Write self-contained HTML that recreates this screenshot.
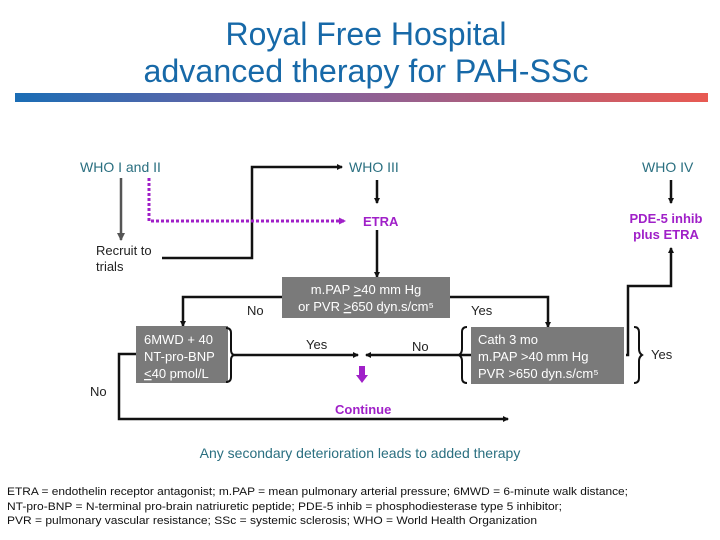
<!DOCTYPE html>
<html><head><meta charset="utf-8"><style>
body{margin:0;background:#fff;width:720px;height:540px;overflow:hidden}
svg{display:block;font-family:"Liberation Sans",Arial,sans-serif}
</style></head><body>
<svg width="720" height="540" viewBox="0 0 720 540">
<defs>
<linearGradient id="g" x1="0" x2="1"><stop offset="0" stop-color="#1a6db5"/><stop offset="0.4" stop-color="#7a62a3"/><stop offset="1" stop-color="#e85a52"/></linearGradient>
<marker id="a" markerWidth="6" markerHeight="6" refX="5" refY="3" orient="auto" markerUnits="userSpaceOnUse"><path d="M0,0 L6,3 L0,6 z" fill="#111"/></marker>
<marker id="ag" markerWidth="8" markerHeight="8" refX="7" refY="4" orient="auto" markerUnits="userSpaceOnUse"><path d="M0,0 L8,4 L0,8 z" fill="#555"/></marker>
<marker id="ap" markerWidth="7" markerHeight="7" refX="6" refY="3.5" orient="auto" markerUnits="userSpaceOnUse"><path d="M0,0 L7,3.5 L0,7 z" fill="#a020c8"/></marker>
</defs>
<text x="366" y="45" font-size="32" fill="#1769a8" text-anchor="middle" textLength="281" lengthAdjust="spacingAndGlyphs">Royal Free Hospital</text>
<text x="366" y="82" font-size="32" fill="#1769a8" text-anchor="middle" textLength="445" lengthAdjust="spacingAndGlyphs">advanced therapy for PAH-SSc</text>
<rect x="15" y="93" width="693" height="9" fill="url(#g)"/>

<g font-size="14" fill="#2a6f80">
<text x="80" y="172">WHO I and II</text>
<text x="349" y="172">WHO III</text>
<text x="642" y="172">WHO IV</text>
</g>
<g stroke="#111" stroke-width="2.5" fill="none">
<line x1="121" y1="178" x2="121" y2="240" stroke="#555" marker-end="url(#ag)"/>
<polyline points="162,258 252,258 252,167 342,167" marker-end="url(#a)"/>
<line x1="377" y1="180" x2="377" y2="203" marker-end="url(#a)"/>
<line x1="377" y1="230" x2="377" y2="277" marker-end="url(#a)"/>
<line x1="671" y1="180" x2="671" y2="203" marker-end="url(#a)"/>
<polyline points="282,297 183,297 183,326" marker-end="url(#a)"/>
<polyline points="450,297 548,297 548,327" marker-end="url(#a)"/>
<line x1="232" y1="355" x2="358" y2="355" marker-end="url(#a)"/>
<line x1="472" y1="355" x2="366" y2="355" marker-end="url(#a)"/>
<polyline points="136,354 119,354 119,419 508,419" marker-end="url(#a)"/>
<polyline points="626,355 628,355 628,286 671,286 671,248" marker-end="url(#a)"/>
</g>
<polyline points="149,178 149,221 345,221" fill="none" stroke="#a020c8" stroke-width="3" stroke-dasharray="3,2" marker-end="url(#ap)"/>
<rect x="359" y="366" width="6" height="10" fill="#a020c8"/>
<path d="M356,375 L368,375 L362,383 z" fill="#a020c8"/>

<text x="96" y="255" font-size="13" fill="#222">Recruit to</text>
<text x="96" y="271" font-size="13" fill="#222">trials</text>
<g font-size="13" font-weight="bold" fill="#a020c8">
<text x="363" y="226">ETRA</text>
<text x="666" y="223" text-anchor="middle">PDE-5 inhib</text>
<text x="666" y="239" text-anchor="middle">plus ETRA</text>
<text x="335" y="414">Continue</text>
</g>

<rect x="282" y="277" width="168" height="41" fill="#7a7a7a"/>
<text x="366" y="294" font-size="13" fill="#fff" text-anchor="middle">m.PAP <tspan text-decoration="underline">&gt;</tspan>40 mm Hg</text>
<text x="366" y="311" font-size="13" fill="#fff" text-anchor="middle">or PVR <tspan text-decoration="underline">&gt;</tspan>650 dyn.s/cm⁵</text>

<rect x="136" y="326" width="92" height="57" fill="#7a7a7a"/>
<g font-size="13" fill="#fff">
<text x="144" y="344">6MWD + 40</text>
<text x="144" y="361">NT-pro-BNP</text>
<text x="144" y="378"><tspan text-decoration="underline">&lt;</tspan>40 pmol/L</text>
</g>
<path d="M226,328 q5,0 5,5 v17 q0,4 3,5 q-3,1 -3,5 v17 q0,5 -5,5" fill="none" stroke="#111" stroke-width="2"/>

<rect x="471" y="327" width="153" height="57" fill="#7a7a7a"/>
<g font-size="13" fill="#fff">
<text x="478" y="344">Cath 3 mo</text>
<text x="478" y="361">m.PAP &gt;40 mm Hg</text>
<text x="478" y="378">PVR &gt;650 dyn.s/cm⁵</text>
</g>
<path d="M467,327 q-5,0 -5,5 v17 q0,4 -3,6 q3,2 3,6 v17 q0,5 5,5" fill="none" stroke="#111" stroke-width="2"/>
<path d="M634,327 q5,0 5,5 v17 q0,4 3,6 q-3,2 -3,6 v17 q0,5 -5,5" fill="none" stroke="#111" stroke-width="2"/>

<g font-size="13" fill="#222">
<text x="247" y="315">No</text>
<text x="471" y="315">Yes</text>
<text x="306" y="349">Yes</text>
<text x="412" y="351">No</text>
<text x="651" y="359">Yes</text>
<text x="90" y="396">No</text>
</g>

<text x="360" y="458" font-size="14" fill="#2a6f80" text-anchor="middle">Any secondary deterioration leads to added therapy</text>
<g font-size="11" fill="#111">
<text x="7" y="495" textLength="621" lengthAdjust="spacingAndGlyphs">ETRA = endothelin receptor antagonist; m.PAP = mean pulmonary arterial pressure; 6MWD = 6-minute walk distance;</text>
<text x="7" y="510" textLength="555" lengthAdjust="spacingAndGlyphs">NT-pro-BNP = N-terminal pro-brain natriuretic peptide; PDE-5 inhib = phosphodiesterase type 5 inhibitor;</text>
<text x="7" y="524" textLength="530" lengthAdjust="spacingAndGlyphs">PVR = pulmonary vascular resistance; SSc = systemic sclerosis; WHO = World Health Organization</text>
</g>
</svg>
</body></html>
